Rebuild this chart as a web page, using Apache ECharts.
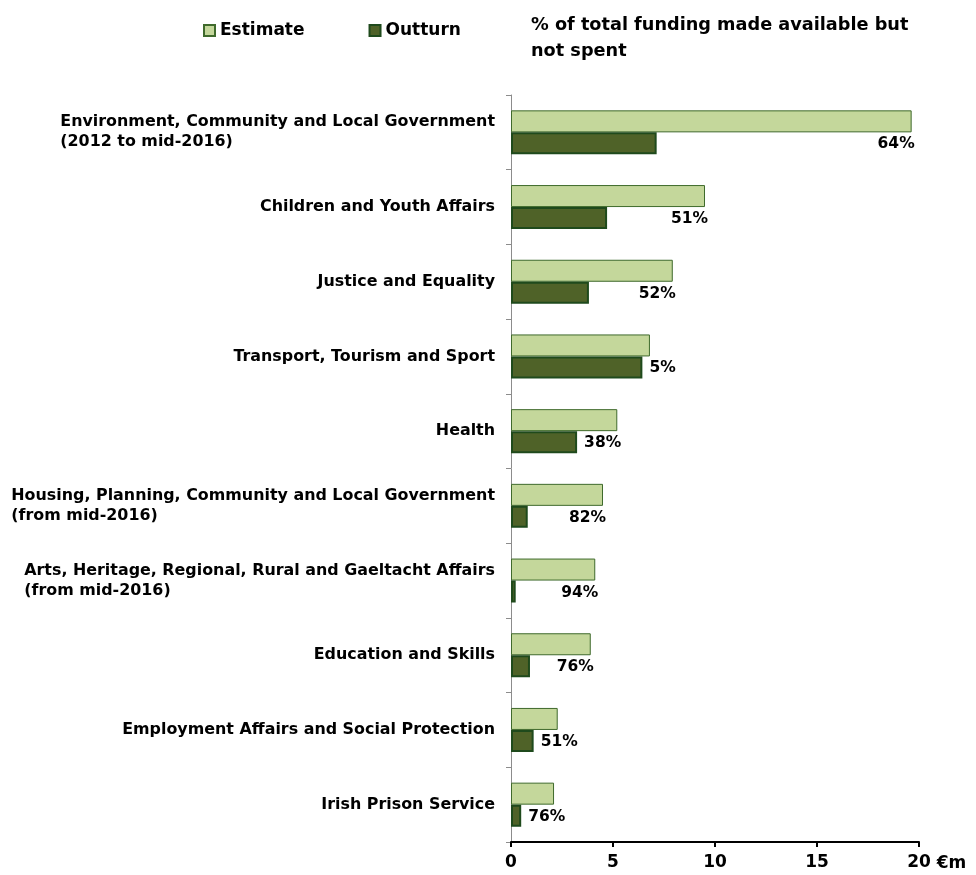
<!DOCTYPE html>
<html>
<head>
<meta charset="utf-8">
<script src="https://cdn.jsdelivr.net/npm/echarts@6/dist/echarts.min.js"></script>
<style>
	html, body { margin: 0; padding: 0; background: #fff; }
	#main { width: 976px; height: 875px; }
</style>
</head>
<body>
<div id="main"></div>
<script>
let categories = [
	'Environment, Community and Local Government\n(2012 to mid-2016)',
	'Children and Youth Affairs',
	'Justice and Equality',
	'Transport, Tourism and Sport',
	'Health',
	'Housing, Planning, Community and Local Government\n(from mid-2016)',
	'Arts, Heritage, Regional, Rural and Gaeltacht Affairs\n(from mid-2016)',
	'Education and Skills',
	'Employment Affairs and Social Protection',
	'Irish Prison Service',
];
let estimate = [19.64, 9.51, 7.93, 6.81, 5.21, 4.51, 4.13, 3.91, 2.29, 2.11]; // €m
let outturn = [7.14, 4.71, 3.82, 6.44, 3.24, 0.82, 0.23, 0.93, 1.11, 0.5]; // €m
let unspent_pct = [64, 51, 52, 5, 38, 82, 94, 76, 51, 76]; // % 未支出
let x_ticks = [0, 5, 10, 15, 20];

let font = 'DejaVu Sans';
let bar_w = 22;

let chart = echarts.init(document.getElementById('main'));

// 百分比标签 放在估算柱末端下方 空间不够时放在实际柱右侧
let label_data = categories.map((c, i) => [outturn[i], i, estimate[i], unspent_pct[i]]);

let option = {
	animation: false,
	title: {
		text: '% of total funding made available but\nnot spent',
		left: 531,
		top: 12,
		padding: 0,
		textStyle: {
			fontFamily: font,
			fontSize: 17.7,
			fontWeight: 'bold',
			color: '#000',
			lineHeight: 26,
		},
	},
	legend: {
		data: ['Estimate', 'Outturn'],
		left: 198,
		top: 17,
		icon: 'rect',
		itemWidth: 11,
		itemHeight: 11,
		itemGap: 64,
		textStyle: {
			fontFamily: font,
			fontSize: 17,
			fontWeight: 'bold',
			color: '#000',
		},
	},
	grid: {
		left: 511,
		right: 57,
		top: 95,
		bottom: 33,
		containLabel: false,
		outerBoundsMode: 'none',
	},
	xAxis: {
		type: 'value',
		min: x_ticks[0],
		max: x_ticks[x_ticks.length - 1],
		interval: 5,
		splitLine: { show: false },
		axisLine: { show: true, lineStyle: { color: '#000', width: 2 } },
		axisTick: { show: true, length: 5, lineStyle: { color: '#000', width: 2 } },
		axisLabel: {
			margin: 12,
			fontFamily: font,
			fontSize: 17,
			fontWeight: 'bold',
			color: '#000',
		},
		name: '€m',
		nameLocation: 'end',
		nameGap: 14,
		nameTextStyle: {
			fontFamily: font,
			fontSize: 17,
			fontWeight: 'bold',
			color: '#000',
			verticalAlign: 'top',
			padding: [13, 0, 0, 0],
		},
	},
	yAxis: {
		type: 'category',
		data: categories,
		inverse: true,
		axisLine: { show: true, lineStyle: { color: '#8c8c8c', width: 1 } },
		axisTick: { show: true, length: 5, lineStyle: { color: '#8c8c8c' } },
		axisLabel: {
			margin: 16,
			interval: 0,
			formatter: (v) => v.split('\n').map((s) => `{a|${s}}`).join('\n'),
			rich: {
				a: {
					fontFamily: font,
					fontSize: 15.9,
					fontWeight: 'bold',
					color: '#000',
					lineHeight: 20,
					align: 'left',
				},
			},
		},
	},
	series: [
		{
			name: 'Estimate',
			type: 'bar',
			data: estimate,
			barWidth: bar_w,
			barGap: '0%',
			itemStyle: { color: '#c4d79b', borderColor: '#3f6a2c', borderWidth: 1 },
		},
		{
			name: 'Outturn',
			type: 'bar',
			data: outturn,
			barWidth: bar_w,
			barGap: '0%',
			itemStyle: { color: '#4f6228', borderColor: '#1f4a1c', borderWidth: 2 },
		},
		{
			name: 'pct',
			type: 'custom',
			data: label_data,
			encode: { x: 0, y: 1 },
			silent: true,
			z: 10,
			renderItem(params, api) {
				let i = api.value(1);
				let out = api.coord([api.value(0), i]);
				let est = api.coord([api.value(2), i]);
				let at_est = api.value(2) - api.value(0) > 2.5;
				return {
					type: 'text',
					style: {
						x: at_est ? est[0] + 3 : out[0] + 7,
						y: out[1] + bar_w / 2 + 1,
						text: `${api.value(3)}%`,
						align: at_est ? 'right' : 'left',
						verticalAlign: 'middle',
						fontFamily: font,
						fontSize: 15.5,
						fontWeight: 'bold',
						fill: '#000',
					},
				};
			},
		},
	],
};
chart.setOption(option);
</script>
</body>
</html>
